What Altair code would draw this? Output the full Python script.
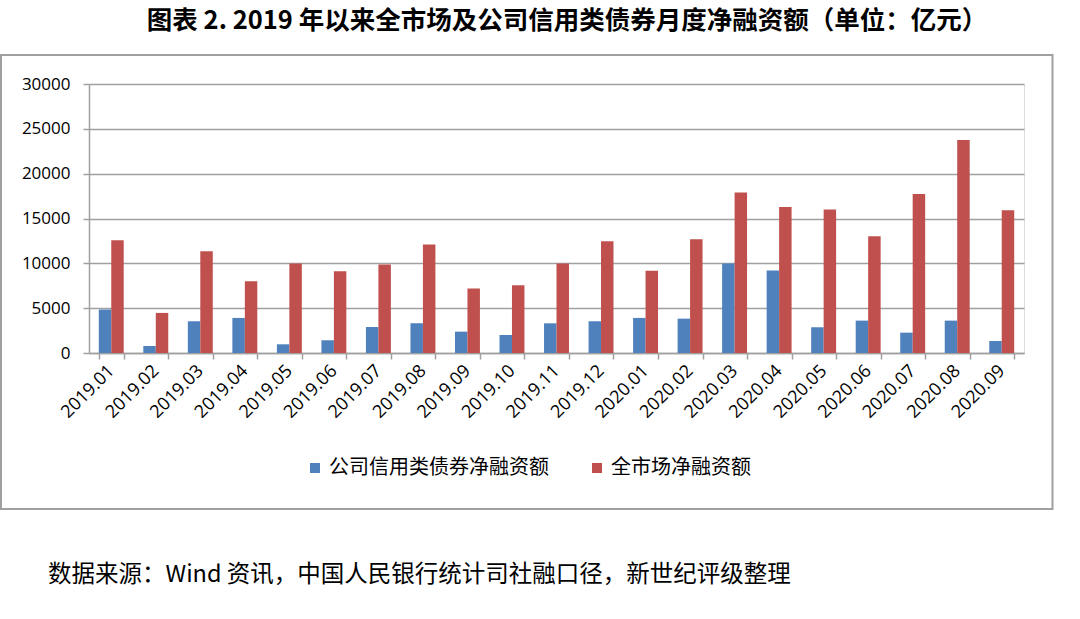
import altair as alt
import pandas as pd

months = ["2019.01", "2019.02", "2019.03", "2019.04", "2019.05", "2019.06", "2019.07",
          "2019.08", "2019.09", "2019.10", "2019.11", "2019.12", "2020.01", "2020.02",
          "2020.03", "2020.04", "2020.05", "2020.06", "2020.07", "2020.08", "2020.09"]
corp_credit = [4850, 780, 3540, 3910, 970, 1420, 2900,
               3320, 2380, 2010, 3310, 3540, 3910, 3830,
               9980, 9190, 2870, 3610, 2270, 3610, 1340]
whole_market = [12580, 4470, 11350, 8000, 9970, 9120, 9860,
                12100, 7180, 7560, 9980, 12470, 9160, 12690,
                17900, 16270, 16000, 13030, 17720, 23750, 15930]
series_names = ["公司信用类债券净融资额", "全市场净融资额"]
series_colors = ["#4F81BD", "#C0504D"]
title_text = "图表 2. 2019 年以来全市场及公司信用类债券月度净融资额（单位：亿元）"
source_text = "数据来源：Wind 资讯，中国人民银行统计司社融口径，新世纪评级整理"

rows = []
for m, a, b in zip(months, corp_credit, whole_market):
    rows.append({"month": m, "series": series_names[0], "value": a})
    rows.append({"month": m, "series": series_names[1], "value": b})
df = pd.DataFrame(rows)

CJK = "Noto Sans CJK SC"
NUM = "Open Sans"

bars = alt.Chart(df).mark_bar().encode(
    x=alt.X("month:N", sort=months,
            scale=alt.Scale(paddingInner=0.44, paddingOuter=0.22),
            axis=alt.Axis(title=None, labelAngle=-45, labelAlign="right",
                          labelBaseline="middle", labelFont=NUM, labelFontSize=18,
                          labelColor="#000000", labelPadding=9,
                          domainColor="#a0a0a0", domainWidth=1.5,
                          tickColor="#a0a0a0", tickWidth=1.5, tickSize=6,
                          tickBand="extent", grid=False)),
    xOffset=alt.XOffset("series:N", sort=series_names,
                        scale=alt.Scale(paddingInner=0, paddingOuter=0)),
    y=alt.Y("value:Q",
            scale=alt.Scale(domain=[0, 30000], nice=False),
            axis=alt.Axis(title=None, values=[0, 5000, 10000, 15000, 20000, 25000, 30000],
                          format="d",
                          labelFont=NUM, labelFontSize=17, labelColor="#000000",
                          labelPadding=13, domainColor="#a0a0a0", domainWidth=1.5,
                          tickColor="#a0a0a0", tickWidth=1.5, tickSize=6,
                          gridColor="#a0a0a0", gridWidth=1.5)),
    color=alt.Color("series:N", sort=series_names,
                    scale=alt.Scale(domain=series_names, range=series_colors),
                    legend=alt.Legend(title=None, orient="none", direction="horizontal",
                                      legendX=216, legendY=374,
                                      symbolType="square", symbolSize=100,
                                      symbolStrokeWidth=0,
                                      labelFont=CJK, labelFontSize=20,
                                      labelColor="#000000", labelLimit=400,
                                      columnPadding=38, symbolOffset=0)),
)

frame = alt.Chart(alt.Data(values=[{"k": 1}])).mark_rect(
    fillOpacity=0, stroke="#a0a0a0", strokeWidth=2, clip=False
).encode(
    x=alt.value(-88), x2=alt.value(963.5),
    y=alt.value(-29), y2=alt.value(425),
)

title = alt.Chart(alt.Data(values=[{"t": title_text}])).mark_text(
    align="center", baseline="middle", font=CJK, fontSize=25.5, fontWeight="bold",
    color="#000000"
).encode(
    text="t:N", x=alt.value(478), y=alt.value(-63),
)

footer = alt.Chart(alt.Data(values=[{"t": source_text}])).mark_text(
    align="left", baseline="middle", font=CJK, fontSize=23.5, color="#000000"
).encode(
    text="t:N", x=alt.value(-41), y=alt.value(491),
)

chart = alt.layer(frame, bars, title, footer).properties(
    width=935, height=269,
    padding={"left": 89, "top": 84, "right": 56, "bottom": 266},
    autosize=alt.AutoSizeParams(type="none"),
).configure_view(stroke=None).configure(background="#ffffff")

chart.save("out.html", embed_options={"renderer": "svg", "actions": False})
